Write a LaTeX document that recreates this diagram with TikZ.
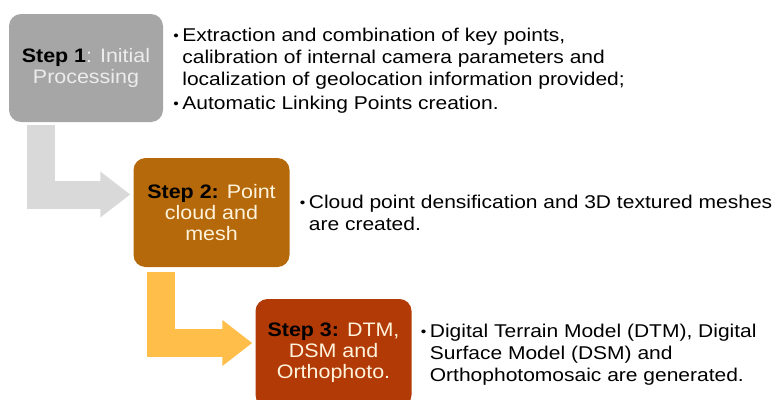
\documentclass[tikz,border=0pt]{standalone}
\usepackage{fontspec}
\setmainfont[FakeStretch=1.1]{Liberation Sans}
\newfontfamily\notesfont[FakeStretch=1.135]{Liberation Sans}
\usetikzlibrary{arrows.meta,positioning}

\definecolor{greybox}{HTML}{A6A6A6}
\definecolor{brownbox}{HTML}{B5690A}
\definecolor{rustbox}{HTML}{B23A06}
\definecolor{greyarrow}{HTML}{D9D9D9}
\definecolor{amberarrow}{HTML}{FFBE4A}
\definecolor{paletext}{HTML}{ECECEC}
\definecolor{creamtext}{HTML}{FFF3DC}

\newcommand{\bul}{\makebox[9pt][l]{\raisebox{1pt}{\scalebox{0.75}{\textbullet}}}}
\newcommand{\ind}{\hspace*{9pt}}

\begin{document}
\begin{tikzpicture}[x=1pt,y=-1pt,
  stepbox/.style={rounded corners=12pt,minimum width=156pt,minimum height=108pt,
    inner sep=2pt,align=center,font=\fontsize{19.5}{21}\selectfont},
  notes/.style={align=left,inner sep=0pt,font=\notesfont\fontsize{18.5}{22}\selectfont},
  bentarrow/.style={line width=28pt,-{Triangle[length=30pt,width=44pt]}}]
  \useasboundingbox (0,0) rectangle (779,399);

  % the three steps
  \node[stepbox,fill=greybox,minimum width=154pt] (step1) at (86,68)
    {\textbf{Step 1}\textcolor{paletext}{: Initial}\\\textcolor{paletext}{Processing}};
  \node[stepbox,fill=brownbox,minimum height=109pt] (step2) at (211.5,212.5)
    {\textbf{Step 2:} \textcolor{creamtext}{Point}\\\textcolor{creamtext}{cloud and}\\\textcolor{creamtext}{mesh}};
  \node[stepbox,fill=rustbox] (step3) at (333.5,353)
    {\textbf{Step 3:} \textcolor{creamtext}{DTM,}\\\textcolor{creamtext}{DSM and}\\\textcolor{creamtext}{Orthophoto.}};

  % bullet notes
  \node[notes,right=10pt of step1,yshift=-3pt] (note1)
    {\bul Extraction and combination of key points,\\
     \ind calibration of internal camera parameters and\\
     \ind localization of geolocation information provided;\\[2pt]
     \bul Automatic Linking Points creation.};
  \node[notes,right=10pt of step2] (note2)
    {\bul Cloud point densification and 3D textured meshes\\
     \ind are created.};
  \node[notes,right=9pt of step3,yshift=-2pt] (note3)
    {\bul Digital Terrain Model (DTM), Digital\\
     \ind Surface Model (DSM) and\\
     \ind Orthophotomosaic are generated.};

  % bent arrows between steps
  \draw[bentarrow,greyarrow] ([xshift=32pt,yshift=-3pt]step1.south west)
    |- ([xshift=-3pt,yshift=18pt]step2.west);
  \draw[bentarrow,amberarrow] ([xshift=27.5pt,yshift=-5pt]step2.south west)
    |- ([xshift=-3pt,yshift=10pt]step3.west);
\end{tikzpicture}
\end{document}
